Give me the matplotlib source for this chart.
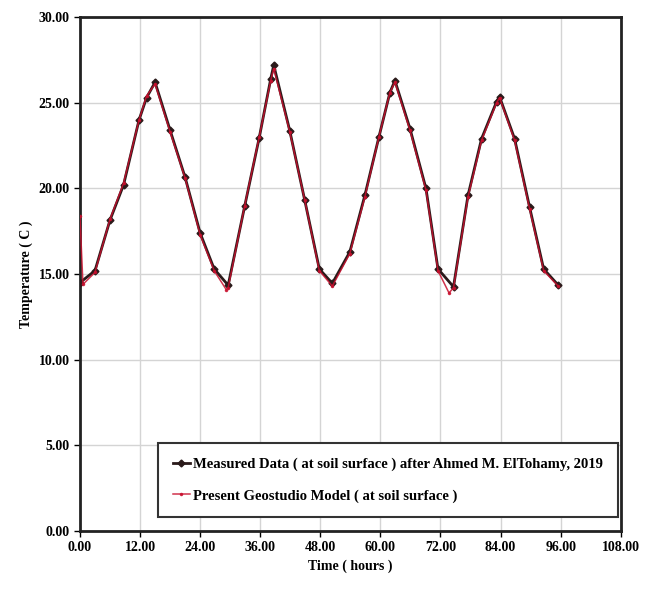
import matplotlib
matplotlib.use('Agg')
import matplotlib.pyplot as plt

plt.rcParams['font.family'] = ['Liberation Serif', 'DejaVu Serif']
plt.rcParams['font.weight'] = 'bold'

# Medición en superficie (horas, °C)
t_medido = [0, 3, 6, 8.7, 11.8, 13.3, 15, 18, 21, 24, 26.8, 29.6, 32.9, 35.8, 38.1, 38.7,
            41.9, 44.9, 47.8, 50.4, 53.9, 56.9, 59.7, 61.9, 62.9, 65.9, 69.1, 71.5, 74.6,
            77.5, 80.2, 83.2, 83.8, 86.8, 89.8, 92.6, 95.5]
T_medido = [14.5, 15.2, 18.15, 20.2, 24.0, 25.3, 26.2, 23.4, 20.65, 17.4, 15.3, 14.35, 18.97,
            22.96, 26.4, 27.2, 23.37, 19.3, 15.3, 14.46, 16.3, 19.6, 23.0, 25.6, 26.3, 23.5,
            20.0, 15.3, 14.26, 19.6, 22.9, 25.06, 25.35, 22.9, 18.9, 15.3, 14.36]

# Modelo Geostudio
t_modelo = [0, 0.6, 3, 6, 8.7, 11.8, 13.3, 15, 18, 21, 24, 26.8, 29.2, 29.6, 32.9, 35.8, 38.1,
            38.7, 41.9, 44.9, 47.8, 50.4, 53.9, 56.9, 59.7, 61.9, 62.9, 65.9, 69.1, 71.5, 73.7,
            74.6, 77.5, 80.2, 83.2, 83.8, 86.8, 89.8, 92.6, 95.5]
T_modelo = [18.4, 14.4, 15.1, 18.2, 20.3, 24.0, 25.4, 26.1, 23.3, 20.6, 17.3, 15.2, 14.1, 14.2,
            19.0, 23.0, 26.3, 27.0, 23.3, 19.3, 15.2, 14.3, 16.2, 19.5, 23.0, 25.6, 26.2, 23.4,
            19.9, 15.2, 13.9, 14.2, 19.5, 22.8, 25.0, 25.3, 22.8, 18.8, 15.2, 14.3]

xticks = [0, 12, 24, 36, 48, 60, 72, 84, 96, 108]
yticks = [0, 5, 10, 15, 20, 25, 30]

fig = plt.figure(figsize=(6.5, 5.92), dpi=100)
ax = fig.add_axes([0.123, 0.103, 0.832, 0.868])

ax.plot(t_medido, T_medido, color='#2a1a1a', lw=2.0, marker='D', ms=3.5,
        label='Measured Data ( at soil surface ) after Ahmed M. ElTohamy, 2019', zorder=3)
ax.plot(t_modelo, T_modelo, color='#c8102e', lw=1.1, marker='.', ms=3, alpha=0.85,
        label='Present Geostudio Model ( at soil surface )', zorder=4)

ax.set_xlim(0, 108)
ax.set_ylim(0, 30)
ax.set_xticks(xticks)
ax.set_yticks(yticks)
ax.set_xticklabels([f'{v:.2f}' for v in xticks])
ax.set_yticklabels([f'{v:.2f}' for v in yticks])
ax.tick_params(labelsize=10, length=4, width=1)
ax.grid(True, color='#d4d4d4', lw=1)
ax.set_axisbelow(True)
for s in ax.spines.values():
    s.set_linewidth(2)
    s.set_color('#222222')

ax.set_xlabel('Time ( hours )', fontsize=10, fontweight='bold')
ax.set_ylabel('Temperature ( C )', fontsize=10, fontweight='bold')

leg = ax.legend(loc='lower right', bbox_to_anchor=(0.994, 0.027), borderaxespad=0,
                fontsize=10.5, frameon=True, fancybox=False, edgecolor='#333333',
                framealpha=1, handlelength=1.2, handletextpad=0.2, borderpad=1.0,
                labelspacing=1.25)
leg.get_frame().set_linewidth(1.5)

fig.savefig('out.png', dpi=100)
